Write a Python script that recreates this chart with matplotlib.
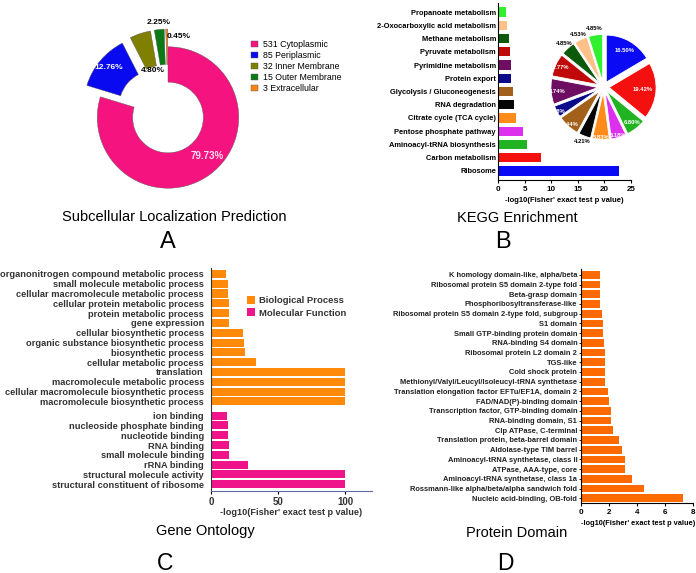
import matplotlib
matplotlib.use('Agg')
import matplotlib.pyplot as plt
import numpy as np

plt.rcParams['font.family'] = ['Liberation Sans', 'DejaVu Sans']

W, H = 696, 573

# A - localizacao subcelular
loc_nomes = ['Cytoplasmic', 'Periplasmic', 'Inner Membrane', 'Outer Membrane', 'Extracellular']
loc_contagens = [531, 85, 32, 15, 3]
loc_cores = ['#F5147F', '#0A0AF0', '#7F7F00', '#0B7A16', '#FF8410']

# B - KEGG (de baixo para cima)
kegg_vias = ['Ribosome', 'Carbon metabolism', 'Aminoacyl-tRNA biosynthesis',
             'Pentose phosphate pathway', 'Citrate cycle (TCA cycle)', 'RNA degradation',
             'Glycolysis / Gluconeogenesis', 'Protein export', 'Pyrimidine metabolism',
             'Pyruvate metabolism', 'Methane metabolism', '2-Oxocarboxylic acid metabolism',
             'Propanoate metabolism']
kegg_log10p = [22.7, 8.1, 5.5, 4.7, 3.45, 3.0, 2.8, 2.4, 2.35, 2.3, 2.1, 1.65, 1.5]
kegg_pct = [16.50, 19.42, 6.80, 5.18, 5.83, 4.21, 7.44, 3.88, 8.74, 7.77, 4.85, 4.53, 4.85]
kegg_cores = ['#0A0AF5', '#F51010', '#22B322', '#DD30EE', '#FF8C1A', '#050505', '#A2601A',
              '#0A0A8A', '#6E0E62', '#C00A0A', '#0B5A0B', '#FFC08A', '#30F030']

# C - Gene Ontology (de baixo para cima)
go_mf = ['structural constituent of ribosome', 'structural molecule activity', 'rRNA binding',
         'small molecule binding', 'RNA binding', 'nucleotide binding',
         'nucleoside phosphate binding', 'ion binding']
go_mf_val = [100, 100, 27.6, 13.2, 13.2, 12.7, 12.7, 11.7]
go_bp = ['macromolecule biosynthetic process', 'cellular macromolecule biosynthetic process',
         'macromolecule metabolic process', 'translation', 'cellular metabolic process',
         'biosynthetic process', 'organic substance biosynthetic process',
         'cellular biosynthetic process', 'gene expression', 'protein metabolic process',
         'cellular protein metabolic process', 'cellular macromolecule metabolic process',
         'small molecule metabolic process', 'organonitrogen compound metabolic process']
go_bp_val = [100, 100, 100, 100, 33.8, 25.6, 24.9, 24.1, 13.4, 13.2, 13.2, 12.7, 12.4, 11.2]

# D - dominios de proteina (de baixo para cima)
dom_nomes = ['Nucleic acid-binding, OB-fold', 'Rossmann-like alpha/beta/alpha sandwich fold',
             'Aminoacyl-tRNA synthetase, class 1a', 'ATPase, AAA-type, core',
             'Aminoacyl-tRNA synthetase, class II', 'Aldolase-type TIM barrel',
             'Translation protein, beta-barrel domain', 'Clp ATPase, C-terminal',
             'RNA-binding domain, S1', 'Transcription factor, GTP-binding domain',
             'FAD/NAD(P)-binding domain', 'Translation elongation factor EFTu/EF1A, domain 2',
             'Methionyl/Valyl/Leucyl/Isoleucyl-tRNA synthetase', 'Cold shock protein',
             'TGS-like', 'Ribosomal protein L2 domain 2', 'RNA-binding S4 domain',
             'Small GTP-binding protein domain', 'S1 domain',
             'Ribosomal protein S5 domain 2-type fold, subgroup', 'Phosphoribosyltransferase-like',
             'Beta-grasp domain', 'Ribosomal protein S5 domain 2-type fold',
             'K homology domain-like, alpha/beta']
dom_val = [7.26, 4.49, 3.66, 3.17, 3.17, 2.96, 2.72, 2.34, 2.17, 2.17, 2.06, 1.94, 1.73, 1.73,
           1.73, 1.73, 1.68, 1.63, 1.63, 1.54, 1.42, 1.42, 1.42, 1.37]

XLABEL = "-log10(Fisher' exact test p value)"

fig = plt.figure(figsize=(W / 100, H / 100), dpi=100)


def eixo(esq, topo, dir, base):
    """cria eixo a partir de coordenadas em pixels"""
    return fig.add_axes([esq / W, 1 - base / H, (dir - esq) / W, (base - topo) / H])


def texto(x, y, s, **kw):
    fig.text(x / W, 1 - y / H, s, ha='center', va='center', **kw)


def estilo_barras(ax, cor_eixo='black'):
    for lado in ['top', 'right']:
        ax.spines[lado].set_visible(False)
    for lado in ['left', 'bottom']:
        ax.spines[lado].set_linewidth(0.8)
        ax.spines[lado].set_color(cor_eixo)


# ---------- A: donut ----------
axA = eixo(168 - 99, 117.5 - 99, 168 + 99, 117.5 + 99)
fatias, _ = axA.pie(loc_contagens, colors=loc_cores, startangle=90, counterclock=False,
                    explode=[0, 0.25, 0.25, 0.25, 0.25],
                    wedgeprops=dict(width=0.5, edgecolor='#555555', linewidth=0.3))
axA.set_xlim(-1.4, 1.4)
axA.set_ylim(-1.4, 1.4)
total = sum(loc_contagens)
dist_A = [0.77, 0.84, 0.45, 1.10, 0.90]
giro_A = [9, 0, 0, 0, 0]  # deslocamento angular do rotulo (graus)
cor_A = ['#FFE0F0', 'white', 'black', 'black', 'black']
ha_A = ['center', 'center', 'center', 'center', 'left']
tam_A = [7, 6, 6, 6, 6]
for f, c, d, g, cor, ha, tam in zip(fatias, loc_contagens, dist_A, giro_A, cor_A, ha_A, tam_A):
    ang = np.deg2rad((f.theta1 + f.theta2) / 2 + g)
    cx, cy = f.center
    axA.text(cx + d * np.cos(ang), cy + d * np.sin(ang), f'{100 * c / total:.2f}%',
             ha=ha, va='center', color=cor, fontsize=tam, fontweight='bold')

fig.legend(fatias, [f'{n} {nome}' for n, nome in zip(loc_contagens, loc_nomes)],
           loc='upper left', bbox_to_anchor=(251 / W, 1 - 40 / H), frameon=False,
           fontsize=6.3, handlelength=0.8, handleheight=0.7, handletextpad=0.55,
           labelspacing=0.22, borderpad=0, borderaxespad=0)

texto(174, 217, 'Subcellular Localization Prediction', fontsize=10.5)
texto(168, 242, 'A', fontsize=17)

# ---------- B: KEGG ----------
axB = eixo(498, 3, 631, 180)
posB = np.arange(len(kegg_vias))
axB.barh(posB, kegg_log10p, height=0.7, color=kegg_cores)
axB.set_xlim(0, 25)
axB.set_ylim(-0.68, 12.68)
axB.set_yticks(posB)
axB.set_yticklabels(kegg_vias, fontsize=5.4, fontweight='bold')
axB.set_xticks([0, 5, 10, 15, 20, 25])
axB.tick_params(axis='y', length=0, pad=1.5)
axB.tick_params(axis='x', length=2.5, width=0.8, pad=1.5, labelsize=5.8)
for t in axB.get_xticklabels():
    t.set_fontweight('bold')
axB.set_xlabel(XLABEL, fontsize=5.5, fontweight='bold', labelpad=3)
estilo_barras(axB)

axP = eixo(603.5 - 62, 87 - 62, 603.5 + 62, 87 + 62)
fatiasB, _ = axP.pie(kegg_pct, colors=kegg_cores, startangle=90, counterclock=False,
                     explode=[0.12] * len(kegg_pct),
                     wedgeprops=dict(edgecolor='white', linewidth=0.6))
axP.set_xlim(-1.32, 1.32)
axP.set_ylim(-1.32, 1.32)
# distancia radial de cada rotulo; >1 fica fora da fatia, em preto
dist_P = [0.78, 0.72, 0.85, 0.95, 0.95, 1.13, 0.95, 1.0, 0.88, 0.88, 1.13, 1.13, 1.13]
for f, p, d in zip(fatiasB, kegg_pct, dist_P):
    ang = np.deg2rad((f.theta1 + f.theta2) / 2)
    cx, cy = f.center
    cor = 'black' if d > 1.05 else 'white'
    axP.text(cx + d * np.cos(ang), cy + d * np.sin(ang), f'{p:.2f}%',
             ha='center', va='center', color=cor, fontsize=4.2, fontweight='bold')

texto(517, 218, 'KEGG Enrichment', fontsize=10.5)
texto(503, 242, 'B', fontsize=17)

# ---------- C: Gene Ontology ----------
axC = eixo(211, 268, 372, 491)
pos_mf = np.arange(len(go_mf))
pos_bp = np.arange(len(go_bp)) + len(go_mf) + 0.45
axC.barh(pos_bp, go_bp_val, height=0.82, color='#FF8A0A', label='Biological Process')
axC.barh(pos_mf, go_mf_val, height=0.82, color='#F0148A', label='Molecular Function')
axC.set_xlim(0, 120)
axC.set_ylim(-0.69, 22.05)
axC.set_yticks(np.concatenate([pos_mf, pos_bp]))
axC.set_yticklabels(go_mf + go_bp, fontsize=6.65, fontweight='bold', color='#333333')
axC.set_xticks([0, 50, 100])
axC.tick_params(axis='y', length=0, pad=5)
axC.tick_params(axis='x', length=2.5, width=0.8, pad=2, labelsize=7, labelcolor='#333333')
for t in axC.get_xticklabels():
    t.set_fontweight('bold')
estilo_barras(axC)
axC.spines['bottom'].set_color('#5B6BA0')
axC.spines['left'].set_color('#333333')
axC.set_xlabel(XLABEL, fontsize=6.6, fontweight='bold', color='#333333')
axC.xaxis.set_label_coords((290.7 - 211) / (372 - 211), -(512.3 - 491) / (491 - 268))
axC.xaxis.label.set_va('center')
axC.legend(loc='upper left', bbox_to_anchor=((246.7 - 211) / (372 - 211), 1 - (296 - 268) / (491 - 268)),
           frameon=False, prop=dict(size=6.8, weight='bold'), handlelength=0.9, handleheight=0.9,
           handletextpad=0.45, labelspacing=0.35, borderpad=0, borderaxespad=0)
for t in axC.get_legend().get_texts():
    t.set_color('#333333')

texto(205.7, 530.7, 'Gene Ontology', fontsize=10.5)
texto(165, 563, 'C', fontsize=16.5)

# ---------- D: Protein Domain ----------
axD = eixo(580.5, 269, 693, 503.3)
posD = np.arange(len(dom_nomes))
axD.barh(posD, dom_val, height=0.8, color='#FF6A00')
axD.set_xlim(0, 8)
axD.set_ylim(-0.52, 23.6)
axD.set_yticks(posD)
axD.set_yticklabels(dom_nomes, fontsize=5.4, fontweight='bold', color='#222222')
axD.set_xticks([0, 2, 4, 6, 8])
axD.tick_params(axis='y', length=1.5, width=0.6, pad=0.8)
axD.tick_params(axis='x', length=2.5, width=0.8, pad=1.5, labelsize=5.8)
for t in axD.get_xticklabels():
    t.set_fontweight('bold')
estilo_barras(axD)
axD.set_xlabel(XLABEL, fontsize=5.3, fontweight='bold')
axD.xaxis.set_label_coords((638 - 580.5) / (693 - 580.5), -(523.3 - 503.3) / (503.3 - 269))
axD.xaxis.label.set_va('center')

texto(516.7, 533.3, 'Protein Domain', fontsize=10.5)
texto(505, 563, 'D', fontsize=16.5)

fig.savefig('out.png', dpi=100)
